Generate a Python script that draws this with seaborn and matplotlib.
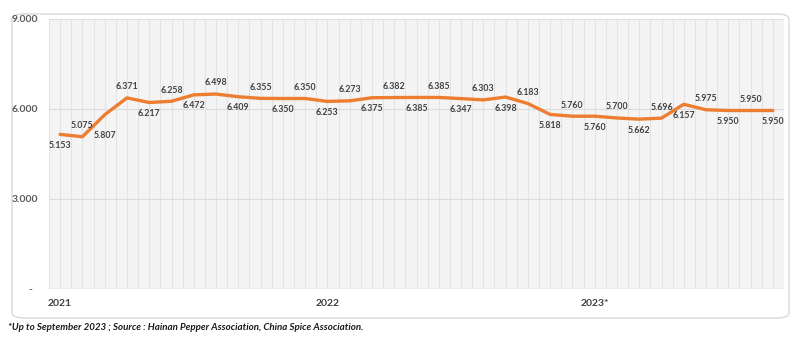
import numpy as np
import pandas as pd
import seaborn as sns
import matplotlib.pyplot as plt
from matplotlib.patches import FancyBboxPatch

# monthly prices, Jan 2021 - Sep 2023
months = pd.date_range('2021-01', periods=33, freq='MS').strftime('%Y-%m').tolist()
prices = [5.153, 5.075, 5.807, 6.371, 6.217, 6.258, 6.472, 6.498, 6.409, 6.355, 6.350, 6.350,
          6.253, 6.273, 6.375, 6.382, 6.385, 6.385, 6.347, 6.303, 6.398, 6.183, 5.818, 5.760,
          5.760, 5.700, 5.662, 5.696, 6.157, 5.975, 5.950, 5.950, 5.950]
year_labels = ['2021', '2022', '2023*']
year_pos = [0, 12, 24]
y_ticks = [0, 3, 6, 9]
y_labels = ['-  ', '3.000', '6.000', '9.000']
note = '*Up to September 2023 ; Source : Hainan Pepper Association, China Spice Association.'

df = pd.DataFrame({'month': months, 'price': prices, 'idx': range(len(months))})

sns.set_theme(style='white')
plt.rcParams['font.family'] = ['Lato', 'DejaVu Sans']

fig = plt.figure(figsize=(8, 3.54), dpi=100)
ax = fig.add_axes([49 / 800, 1 - 289 / 354, (784 - 49) / 800, (289 - 19) / 354])

# rounded frame around the chart
frame = FancyBboxPatch((12 / 800, 1 - 318 / 354), 777 / 800, 304 / 354,
                       boxstyle='round,pad=0,rounding_size=0.015', transform=fig.transFigure,
                       facecolor='white', edgecolor='#d9d9d9', linewidth=1, zorder=-10)
fig.patches.append(frame)

ax.set_facecolor('#f4f4f4')
for xv in np.arange(-0.5, 33, 0.5):
    ax.axvline(xv, color='#e3e3e3', linewidth=0.8, zorder=0)
for yv in y_ticks[1:]:
    ax.axhline(yv, color='#dcdcdc', linewidth=0.8, zorder=0)
ax.axhline(0, color='#d0d0d0', linewidth=1, zorder=1)

sns.lineplot(data=df, x='idx', y='price', ax=ax, color='#ED7D31', linewidth=2.4,
             solid_joinstyle='round', solid_capstyle='round', zorder=3)

for i, v in enumerate(prices):
    off = -8 if i % 2 == 0 else 8
    if i == 2:
        off = -15  # keep clear of the label above
    ax.annotate(f'{v:.3f}', (i, v), xytext=(0, off), textcoords='offset points',
                ha='center', va='center', fontsize=6.3, fontweight='bold', color='#404040')

ax.set_xlim(-0.5, 32.5)
ax.set_ylim(0, 9)
ax.set_yticks(y_ticks)
ax.set_yticklabels(y_labels)
ax.set_xticks(year_pos)
ax.set_xticklabels(year_labels)
ax.tick_params(axis='y', length=0, pad=8, labelsize=7.5, labelcolor='#595959')
ax.tick_params(axis='x', length=0, pad=7, labelsize=7.5, labelcolor='#404040')
for lbl in ax.get_xticklabels() + ax.get_yticklabels():
    lbl.set_fontweight('bold')
ax.set_xlabel('')
ax.set_ylabel('')
for s in ax.spines.values():
    s.set_visible(False)

fig.text(8 / 800, 1 - 327 / 354, note, ha='left', va='center', fontsize=7,
         fontweight='bold', fontstyle='italic', color='#1a1a1a')

plt.savefig('out.png', dpi=100)
